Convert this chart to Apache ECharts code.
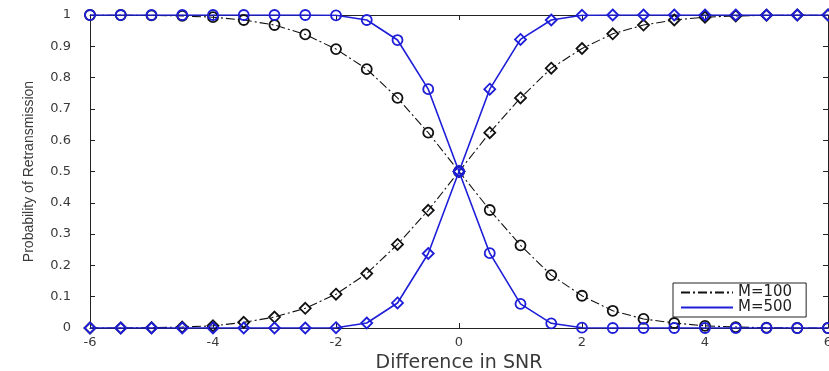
<!DOCTYPE html>
<html>
<head>
<meta charset="utf-8">
<script src="https://cdn.jsdelivr.net/npm/echarts@6/dist/echarts.min.js"></script>
<style>
  html, body { margin: 0; padding: 0; background: #fff; }
  #chart { width: 829px; height: 371px; }
</style>
</head>
<body>
<div id="chart"></div>
<script>
var snr = [-6, -5.5, -5, -4.5, -4, -3.5, -3, -2.5, -2, -1.5, -1, -0.5, 0,
           0.5, 1, 1.5, 2, 2.5, 3, 3.5, 4, 4.5, 5, 5.5, 6];
// M=100, circles (falling) and diamonds (rising)
var m100Fall = [1.000, 1.000, 0.999, 0.997, 0.993, 0.984, 0.968, 0.938, 0.891, 0.827, 0.735, 0.624, 0.500,
                0.377, 0.264, 0.169, 0.103, 0.055, 0.029, 0.016, 0.007, 0.003, 0.001, 0.000, 0.000];
var m100Rise = [0.000, 0.000, 0.001, 0.003, 0.007, 0.018, 0.035, 0.063, 0.108, 0.174, 0.267, 0.376, 0.500,
                0.624, 0.735, 0.830, 0.893, 0.940, 0.968, 0.984, 0.993, 0.997, 0.999, 1.000, 1.000];
// M=500
var m500Fall = [1.000, 1.000, 1.000, 1.000, 1.000, 1.000, 1.000, 1.000, 0.999, 0.984, 0.920, 0.763, 0.500,
                0.239, 0.077, 0.015, 0.001, 0.000, 0.000, 0.000, 0.000, 0.000, 0.000, 0.000, 0.000];
var m500Rise = [0.000, 0.000, 0.000, 0.000, 0.000, 0.000, 0.000, 0.000, 0.001, 0.016, 0.080, 0.238, 0.500,
                0.763, 0.922, 0.984, 0.999, 1.000, 1.000, 1.000, 1.000, 1.000, 1.000, 1.000, 1.000];
var legendNames = ['M=100', 'M=500'];

var black = '#111';
var blue = '#1e1ed8';
var dashDot = [9, 3, 2, 3];

function pairs(ys) {
  return snr.map(function (x, i) { return [x, ys[i]]; });
}

function mkSeries(name, ys, color, dashed, symbol, size) {
  return {
    name: name,
    type: 'line',
    data: pairs(ys),
    symbol: symbol,
    symbolSize: size,
    showSymbol: true,
    lineStyle: { color: color, width: dashed ? 1.1 : 1.6, type: dashed ? dashDot : 'solid' },
    itemStyle: { color: 'rgba(0,0,0,0)', borderColor: color, borderWidth: 1.8 },
    emphasis: { disabled: true },
    animation: false
  };
}

var font = 'DejaVu Sans, sans-serif';
var txt = '#3a3a3a';
var axisCommon = {
  type: 'value',
  axisLine: { show: true, onZero: false, lineStyle: { color: '#222', width: 1 } },
  axisTick: { show: true, inside: true, length: 5, lineStyle: { color: '#222' } },
  splitLine: { show: false }
};

var chart = echarts.init(document.getElementById('chart'));
chart.setOption({
  backgroundColor: '#fff',
  animation: false,
  grid: { left: 90, right: 1, top: 15, bottom: 43, containLabel: false, outerBoundsMode: 'none' },
  xAxis: [
    Object.assign({}, axisCommon, {
      min: -6, max: 6, interval: 2, position: 'bottom',
      axisLabel: { color: txt, fontSize: 13, fontFamily: font, margin: 8 },
      name: 'Difference in SNR', nameLocation: 'middle', nameGap: 19,
      nameTextStyle: { color: txt, fontSize: 19, fontFamily: font }
    }),
    Object.assign({}, axisCommon, {
      min: -6, max: 6, interval: 2, position: 'top',
      axisLabel: { show: false }
    })
  ],
  yAxis: [
    Object.assign({}, axisCommon, {
      min: 0, max: 1, interval: 0.1, position: 'left',
      axisLabel: { color: txt, fontSize: 13, fontFamily: font, margin: 19,
        formatter: function (v) { return +v.toFixed(1) + ''; } },
      name: 'Probability of Retransmission', nameLocation: 'middle', nameGap: 54,
      nameTextStyle: { color: txt, fontSize: 14, fontFamily: 'Liberation Sans, Arial, sans-serif' }
    }),
    Object.assign({}, axisCommon, {
      min: 0, max: 1, interval: 0.1, position: 'right',
      axisLabel: { show: false }
    })
  ],
  legend: {
    data: legendNames,
    orient: 'vertical',
    left: 673, top: 283,
    padding: [2, 14, 2, 7],
    itemGap: 0,
    itemWidth: 52, itemHeight: 12,
    borderColor: '#222', borderWidth: 1,
    backgroundColor: '#fff',
    itemStyle: { opacity: 0 },
    textStyle: { color: '#222', fontSize: 15, lineHeight: 15, fontFamily: font }
  },
  series: [
    mkSeries('M=100', m100Fall, black, true, 'circle', 10),
    mkSeries('M=100', m100Rise, black, true, 'diamond', 11),
    mkSeries('M=500', m500Fall, blue, false, 'circle', 10),
    mkSeries('M=500', m500Rise, blue, false, 'diamond', 11)
  ]
});
</script>
</body>
</html>
